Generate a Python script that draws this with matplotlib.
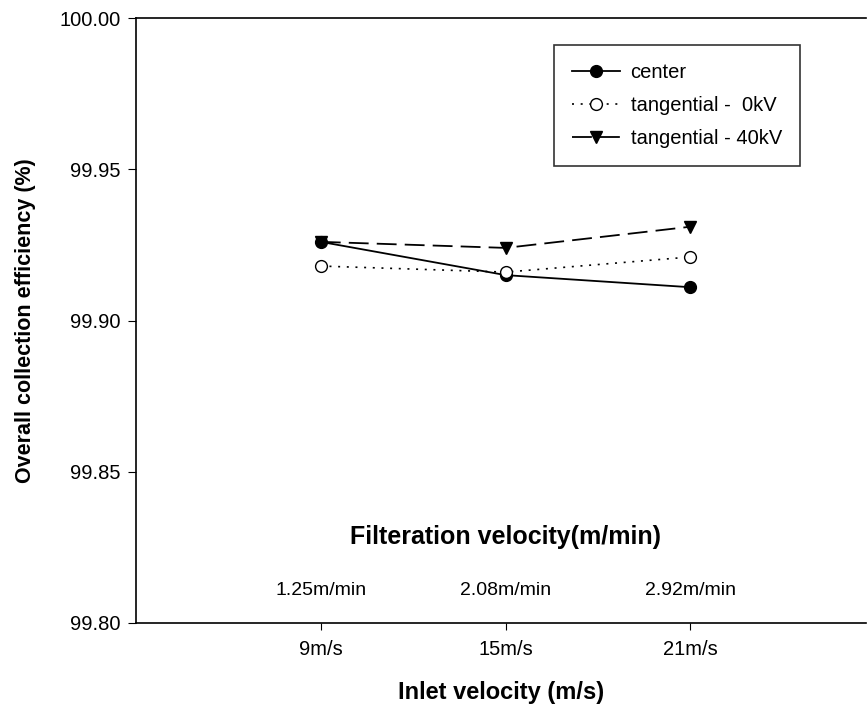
import matplotlib
matplotlib.use("Agg")
import matplotlib.pyplot as plt

plt.rcParams['font.family'] = ['Liberation Sans', 'DejaVu Sans']

inlet_labels = ["9m/s", "15m/s", "21m/s"]
filt_labels = ["1.25m/min", "2.08m/min", "2.92m/min"]
center = [99.926, 99.915, 99.911]
tang_0kv = [99.918, 99.916, 99.921]
tang_40kv = [99.926, 99.924, 99.931]
yticks = [99.80, 99.85, 99.90, 99.95, 100.00]

x = [1, 2, 3]

fig = plt.figure(figsize=(8.67, 7.27), dpi=100)
ax = fig.add_axes([136/867, 1 - 623/727, (866-136)/867, (623-18)/727])

ax.plot(x, center, '-', color='black', lw=1.3, marker='o', ms=8.5,
        mfc='black', mec='black', label='center')
ax.plot(x, tang_0kv, ':', color='black', lw=1.2, marker='o', ms=8.5,
        mfc='white', mec='black', label='tangential -  0kV', dashes=(1.2, 4))
ax.plot(x, tang_40kv, '--', color='black', lw=1.3, marker='v', ms=8.5,
        mfc='black', mec='black', label='tangential - 40kV', dashes=(11, 4.5))

ax.set_xlim(0, 3.95)
ax.set_ylim(99.80, 100.00)
ax.set_yticks(yticks)
ax.set_yticklabels([f"{v:.2f}" for v in yticks], fontsize=14.5)
ax.set_xticks(x)
ax.set_xticklabels(inlet_labels, fontsize=14.5)
ax.tick_params(axis='x', direction='out', length=5, pad=7)
ax.tick_params(axis='y', direction='out', length=6, pad=5)
ax.spines['right'].set_visible(False)
for s in ['left', 'top', 'bottom']:
    ax.spines[s].set_linewidth(1.2)

for xi, lab in zip(x, filt_labels):
    ax.text(xi, 99.8109, lab, ha='center', va='center', fontsize=14)
ax.text(2, 99.8284, "Filteration velocity(m/min)", ha='center', va='center',
        fontsize=18, fontweight='bold')

ax.set_xlabel("Inlet velocity (m/s)", fontsize=17, fontweight='bold')
ax.xaxis.set_label_coords(0.5, (623-681)/605)
ax.set_ylabel("Overall collection efficiency (%)", fontsize=15.5, fontweight='bold',
              va='center')
ax.yaxis.set_label_coords((26-136)/730, 0.5)

leg = ax.legend(loc='upper left', bbox_to_anchor=((554-136)/730, (623-45)/605),
                fontsize=14.5, frameon=True, fancybox=False, edgecolor='black',
                handlelength=2.4, borderpad=0.9, labelspacing=0.7, handletextpad=0.5,
                borderaxespad=0)
leg.get_frame().set_linewidth(1.2)

fig.savefig("out.png", dpi=100)
